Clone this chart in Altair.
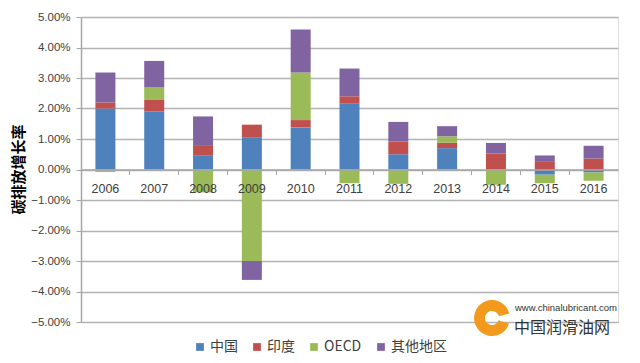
import altair as alt
import pandas as pd

years = ["2006", "2007", "2008", "2009", "2010", "2011", "2012", "2013", "2014", "2015", "2016"]
series = ["中国", "印度", "OECD", "其他地区"]
colors = ["#4F81BD", "#C0504D", "#9BBB59", "#8064A2"]

china = [2.00, 1.90, 0.45, 1.06, 1.38, 2.16, 0.50, 0.70, 0.00, -0.17, -0.10]
india = [0.20, 0.38, 0.35, 0.41, 0.24, 0.24, 0.42, 0.18, 0.52, 0.25, 0.36]
oecd = [-0.08, 0.41, -0.75, -3.00, 1.56, -0.45, -0.47, 0.21, -0.50, -0.28, -0.27]
other = [0.98, 0.87, 0.94, -0.62, 1.41, 0.91, 0.64, 0.33, 0.35, 0.21, 0.42]

y_ticks = [0.05, 0.04, 0.03, 0.02, 0.01, 0.0, -0.01, -0.02, -0.03, -0.04, -0.05]

rows = []
for si, (name, vals) in enumerate(zip(series, [china, india, oecd, other])):
    for yr, v in zip(years, vals):
        rows.append({"year": yr, "series": name, "order": si, "value": v / 100.0})
df = pd.DataFrame(rows)

W, H = 537, 305
CJK = "Noto Sans CJK SC"
LAT = "Liberation Sans"

bars = alt.Chart(df).mark_bar(size=20).encode(
    x=alt.X("year:N", sort=years, title=None,
            scale=alt.Scale(paddingInner=0.0, paddingOuter=0.0),
            axis=alt.Axis(orient="bottom", offset=-(H / 2), labelAngle=0,
                          bandPosition=0, ticks=True, tickSize=5, labelPadding=8,
                          labelFontSize=12.5, labelFont=LAT, labelColor="#404040",
                          domainColor="#a6a6a6", tickColor="#a6a6a6",
                          domainWidth=1.5, grid=False, zindex=1)),
    y=alt.Y("value:Q", stack="zero", title="碳排放增长率",
            scale=alt.Scale(domain=[-0.05, 0.05], nice=False),
            axis=alt.Axis(values=y_ticks, format=".2%", grid=True,
                          gridColor="#b3b3b3", gridWidth=1.5,
                          domainColor="#a6a6a6", domainWidth=1.5,
                          tickColor="#a6a6a6", tickSize=5,
                          labelFont=LAT, labelFontSize=11.5, labelColor="#404040",
                          labelPadding=6,
                          titleFont=CJK, titleFontSize=15, titleFontWeight="bold",
                          titleColor="#000000", titleX=-55, titleY=152)),
    color=alt.Color("series:N", sort=series,
                    scale=alt.Scale(domain=series, range=colors),
                    legend=alt.Legend(title=None, orient="none", legendX=112, legendY=323,
                                      direction="horizontal", symbolType="square",
                                      symbolSize=60, symbolStrokeWidth=0,
                                      labelFont=CJK, labelFontSize=14,
                                      labelColor="#404040", columnPadding=12,
                                      labelOffset=3)),
    order=alt.Order("order:Q"),
)

wm = pd.DataFrame({"t": ["www.chinalubricant.com"]})
wm1 = alt.Chart(wm).mark_text(font=LAT, fontSize=9.5, color="#333333", align="left",
                              baseline="middle").encode(
    x=alt.value(434), y=alt.value(291), text="t:N")
wm2df = pd.DataFrame({"t": ["中国润滑油网"]})
wm2 = alt.Chart(wm2df).mark_text(font=CJK, fontSize=16, color="#333333", align="left",
                                 baseline="middle").encode(
    x=alt.value(433), y=alt.value(311), text="t:N")
logo_df = pd.DataFrame({"a": [1]})
logo = alt.Chart(logo_df).mark_arc(color="#F39A1E", innerRadius=7, outerRadius=18,
                                   theta=1.9, theta2=7.6).encode(
    x=alt.value(411), y=alt.value(301))

chart = alt.layer(bars, logo, wm1, wm2).properties(
    width=W, height=H,
    autosize=alt.AutoSizeParams(type="none"),
    padding={"left": 73, "top": 9, "right": 14, "bottom": 40},
).configure_view(stroke=None).configure(background="#ffffff")

chart.save("out.html", embed_options={"renderer": "svg", "actions": False})
